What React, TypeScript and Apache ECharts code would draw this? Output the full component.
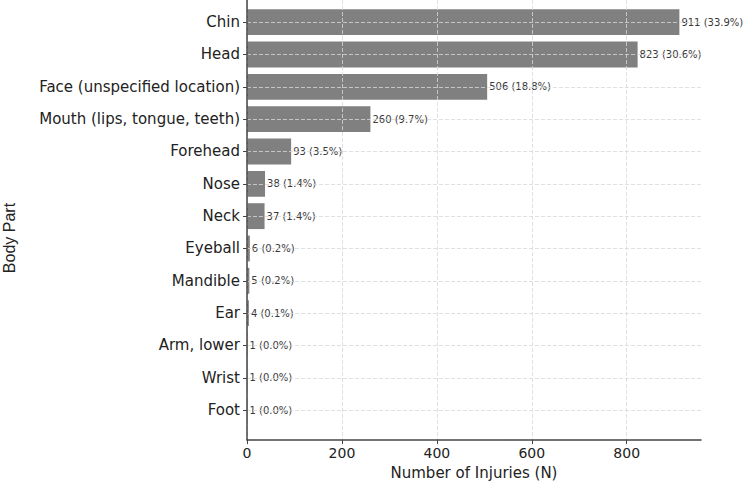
import React, { useEffect, useRef } from "react";
import * as echarts from "echarts";

const categories = [
  "Chin",
  "Head",
  "Face (unspecified location)",
  "Mouth (lips, tongue, teeth)",
  "Forehead",
  "Nose",
  "Neck",
  "Eyeball",
  "Mandible",
  "Ear",
  "Arm, lower",
  "Wrist",
  "Foot",
];
const injuries = [911, 823, 506, 260, 93, 38, 37, 6, 5, 4, 1, 1, 1];
const xTicks = [0, 200, 400, 600, 800];

const total = injuries.reduce((a, b) => a + b, 0);
const xMax = 956.55;

export default function App() {
  const ref = useRef<HTMLDivElement>(null);
  useEffect(() => {
    if (!ref.current) return;
    const chart = echarts.init(ref.current, null, { renderer: "svg" });
    const gridColor = "#d8d8d8";
    chart.setOption({
      animation: false,
      backgroundColor: "#ffffff",
      grid: [
        { left: 247, right: 49, top: 6, bottom: 58.7, containLabel: false },
        { left: 247, right: 49, top: -11.4, bottom: 41.5, containLabel: false },
      ],
      xAxis: [
        {
          gridIndex: 0,
          type: "value",
          min: 0,
          max: xMax,
          show: false,
        },
        {
          gridIndex: 1,
          type: "value",
          min: 0,
          max: xMax,
          interval: 200,
          z: 5,
          name: "Number of Injuries (N)",
          nameLocation: "middle",
          nameGap: 24,
          nameTextStyle: { fontFamily: "DejaVu Sans", fontSize: 15, color: "#222" },
          axisLine: { show: true, lineStyle: { color: "#444", width: 1.5 } },
          axisTick: {
            show: true,
            length: 4,
            customValues: xTicks,
            lineStyle: { color: "#444", width: 1 },
          },
          axisLabel: {
            fontFamily: "DejaVu Sans",
            fontSize: 14,
            color: "#222",
            margin: 6,
            customValues: xTicks,
          },
          splitLine: { show: true, lineStyle: { color: gridColor, type: [4, 2], width: 0.8 } },
        },
      ],
      yAxis: [
        {
          gridIndex: 0,
          type: "category",
          data: categories,
          inverse: true,
          z: 5,
          axisLine: { show: false },
          axisTick: { show: true, alignWithLabel: true, length: 4, lineStyle: { color: "#444" } },
          axisLabel: { fontFamily: "DejaVu Sans", fontSize: 15, color: "#222", margin: 7 },
          splitLine: {
            show: true,
            alignWithLabel: true,
            lineStyle: { color: gridColor, type: [4, 2], width: 0.8 },
          },
        },
        {
          gridIndex: 1,
          type: "value",
          min: 0,
          max: 1,
          z: 5,
          axisLine: { show: true, lineStyle: { color: "#444", width: 1.5 } },
          axisTick: { show: false },
          axisLabel: { show: false },
          splitLine: { show: false },
        },
      ],
      graphic: [
        {
          type: "text",
          x: 9.5,
          y: 238,
          rotation: Math.PI / 2,
          style: {
            text: "Body Part",
            fontFamily: "Liberation Sans",
            fontSize: 16,
            fill: "#222",
            align: "center",
            verticalAlign: "middle",
          },
        },
      ],
      series: [
        {
          type: "bar",
          xAxisIndex: 0,
          yAxisIndex: 0,
          data: injuries,
          barCategoryGap: "20%",
          itemStyle: { color: "#808080" },
          z: 2,
          label: {
            show: true,
            position: "right",
            distance: 2,
            fontFamily: "DejaVu Sans",
            fontSize: 10,
            color: "#3a3a3a",
            formatter: (p: any) => `${p.value} (${((p.value / total) * 100).toFixed(1)}%)`,
          },
        },
      ],
    });
    return () => chart.dispose();
  }, []);
  return (
    <div
      ref={ref}
      style={{ position: "fixed", left: 0, top: 0, width: 750, height: 485 }}
    />
  );
}
